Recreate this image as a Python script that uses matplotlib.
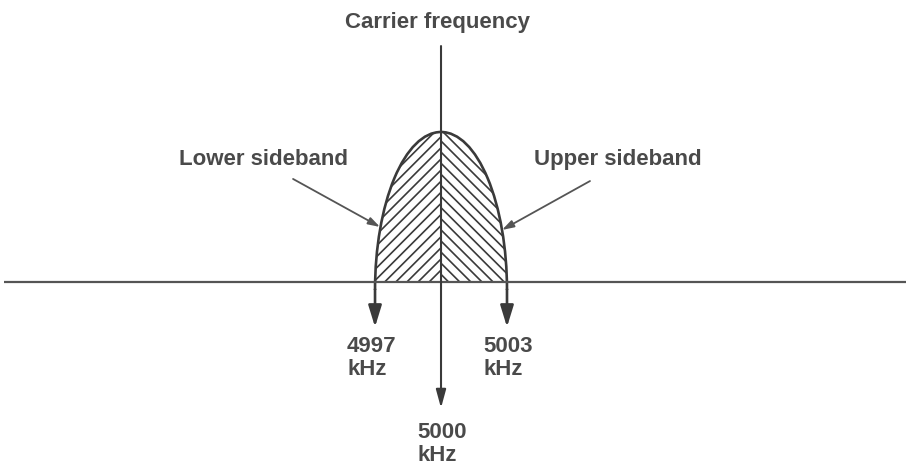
import matplotlib
matplotlib.use("Agg")
import matplotlib.pyplot as plt
from matplotlib.patches import Ellipse, Arc, Rectangle

# ---- data ----
carrier_khz = 5000
sideband_edges_khz = [4997, 5003]
freq_labels = ["4997\nkHz", "5000\nkHz", "5003\nkHz"]
label_freqs = [4997, 5000, 5003]
peak_amplitude = 1.0
title_text = "Carrier frequency"
sideband_names = ["Lower sideband", "Upper sideband"]

# ---- style ----
plt.rcParams['font.family'] = ['Liberation Sans', 'DejaVu Sans']
plt.rcParams['hatch.linewidth'] = 1.2
INK = "#3a3a3a"
TXT = "#4a4a4a"
FS = 16

fig = plt.figure(figsize=(9.06, 4.66), dpi=100)
ax = fig.add_axes([0, 0, 1, 1])
ax.set_xlim(4979.95, 5021.14)
ax.set_ylim(-1.2267, 1.88)
ax.axis("off")

half_bw = (sideband_edges_khz[1] - sideband_edges_khz[0]) / 2
yc = -0.0533
semi_h = peak_amplitude - yc

# hatched sidebands
for (x0, x1), hatch in [((4979, carrier_khz), "///"), ((carrier_khz, 5022), "\\\\\\")]:
    e = Ellipse((carrier_khz, yc), 2 * half_bw, 2 * semi_h, fill=False,
                hatch=hatch, edgecolor=INK, linewidth=0)
    ax.add_patch(e)
    clip = Rectangle((x0, 0), x1 - x0, 3, transform=ax.transData)
    e.set_clip_path(clip)

# envelope outline
ax.add_patch(Arc((carrier_khz, yc), 2 * half_bw, 2 * semi_h, theta1=0, theta2=180,
                 color=INK, lw=1.9))

# baseline
ax.plot([4980.15, 5021.14], [0, 0], color="#555555", lw=1.6, solid_capstyle="butt")

# stems with arrows at sideband edges
tip_y = -0.30
for f in sideband_edges_khz:
    ax.annotate("", xy=(f, tip_y), xytext=(f, yc + 0.005),
                arrowprops=dict(arrowstyle="-|>,head_length=1.3,head_width=0.4",
                                mutation_scale=10, color=INK, lw=1.9,
                                shrinkA=0, shrinkB=0))

# carrier line
ax.annotate("", xy=(carrier_khz, -0.84), xytext=(carrier_khz, 1.573),
            arrowprops=dict(arrowstyle="-|>,head_length=1.1,head_width=0.3",
                            mutation_scale=10, color=INK, lw=1.5,
                            shrinkA=0, shrinkB=0))

# sideband pointer arrows
ax.annotate("", xy=(4997.227, 0.367), xytext=(4993.273, 0.687),
            arrowprops=dict(arrowstyle="-|>,head_length=0.7,head_width=0.22",
                            mutation_scale=10, color="#555555", lw=1.3,
                            shrinkA=0, shrinkB=0))
ax.annotate("", xy=(5002.773, 0.347), xytext=(5006.773, 0.673),
            arrowprops=dict(arrowstyle="-|>,head_length=0.7,head_width=0.22",
                            mutation_scale=10, color="#555555", lw=1.3,
                            shrinkA=0, shrinkB=0))

# texts
ax.text(4999.86, 1.693, title_text, ha="center", va="baseline",
        fontsize=FS, fontweight="bold", color=TXT)
ax.text(4991.93, 0.777, sideband_names[0], ha="center", va="baseline",
        fontsize=FS, fontweight="bold", color=TXT)
ax.text(5008.05, 0.777, sideband_names[1], ha="center", va="baseline",
        fontsize=FS, fontweight="bold", color=TXT)

label_pos = {4997: (4995.727, -0.36), 5000: (4998.909, -0.931), 5003: (5001.909, -0.36)}
for f, lab in zip(label_freqs, freq_labels):
    x, y = label_pos[f]
    ax.text(x, y, lab, ha="left", va="top", fontsize=FS, fontweight="bold",
            color=TXT, linespacing=1.15)

fig.savefig("out.png", dpi=100, facecolor="white")
